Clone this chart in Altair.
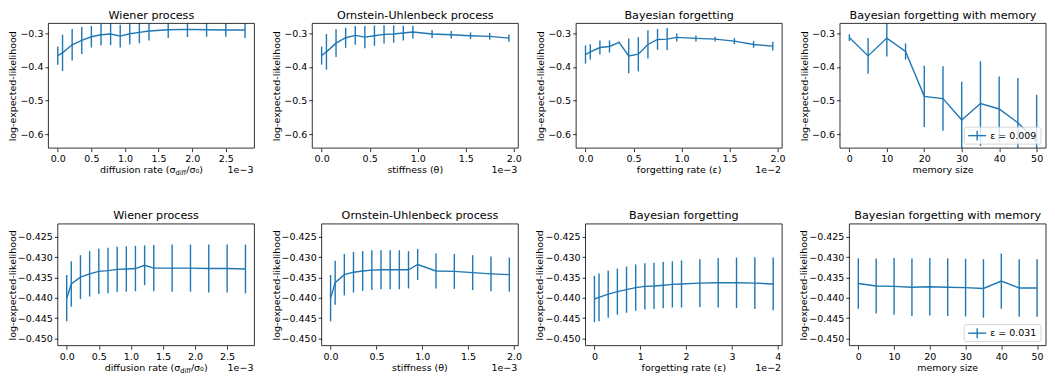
import altair as alt
import pandas as pd

BLUE = "#1f77b4"
FONT = "DejaVu Sans"
TICK_FS = 9.5
LAB_FS = 9.5
TITLE_FS = 11.2

# ---------------- data ----------------
titles = ["Wiener process", "Ornstein-Uhlenbeck process", "Bayesian forgetting",
          "Bayesian forgetting with memory"]
legend_label_top = "\u03b5 = 0.009"
legend_label_bottom = "\u03b5 = 0.031"

wiener_x = [0.0, 0.071, 0.214, 0.357, 0.5, 0.643, 0.786, 0.929, 1.071, 1.214,
            1.357, 1.643, 1.929, 2.214, 2.5, 2.786]
ou_x = [0.0, 0.05, 0.15, 0.25, 0.35, 0.45, 0.55, 0.65, 0.75, 0.85, 0.95,
        1.15, 1.35, 1.55, 1.75, 1.95]
bf_top_x = [0.0, 0.05, 0.15, 0.25, 0.35, 0.45, 0.55, 0.65, 0.75, 0.85, 0.95,
            1.15, 1.35, 1.55, 1.75, 1.95]
bf_bot_x = [0.0, 0.1, 0.3, 0.5, 0.7, 0.9, 1.1, 1.3, 1.5, 1.7, 1.9, 2.3, 2.7,
            3.1, 3.5, 3.9]
mem_x = [0, 5, 10, 15, 20, 25, 30, 35, 40, 45, 50]

wiener_top_mean = [-0.366, -0.358, -0.334, -0.321, -0.310, -0.304, -0.302, -0.308,
                   -0.301, -0.297, -0.293, -0.289, -0.288, -0.289, -0.290, -0.290]
wiener_top_err = [0.027, 0.054, 0.047, 0.040, 0.032, 0.032, 0.033, 0.034,
                  0.032, 0.032, 0.028, 0.025, 0.023, 0.021, 0.020, 0.024]
ou_top_mean = [-0.366, -0.355, -0.329, -0.313, -0.306, -0.311, -0.307, -0.303,
               -0.302, -0.299, -0.296, -0.302, -0.304, -0.307, -0.309, -0.314]
ou_top_err = [0.027, 0.053, 0.041, 0.030, 0.028, 0.033, 0.030, 0.027,
              0.026, 0.022, 0.019, 0.012, 0.011, 0.010, 0.010, 0.011]
bf_top_mean = [-0.363, -0.355, -0.342, -0.339, -0.327, -0.367, -0.362, -0.333,
               -0.318, -0.317, -0.312, -0.315, -0.317, -0.323, -0.333, -0.338]
bf_top_err = [0.027, 0.023, 0.021, 0.018, 0.002, 0.052, 0.051, 0.042,
              0.031, 0.033, 0.012, 0.009, 0.007, 0.009, 0.010, 0.013]
mem_top_mean = [-0.3125, -0.367, -0.314, -0.354, -0.4875, -0.494, -0.558, -0.509,
                -0.525, -0.566, -0.622]
mem_top_err = [0.010, 0.053, 0.055, 0.024, 0.091, 0.096, 0.114, 0.126,
               0.097, 0.133, 0.139]

wiener_bot_mean = [-0.4401, -0.4366, -0.4349, -0.4341, -0.4335, -0.4333, -0.4330, -0.4329,
                   -0.4328, -0.4320, -0.4327, -0.4327, -0.4327, -0.4328, -0.4328, -0.4329]
wiener_bot_err = [0.0057, 0.0056, 0.0054, 0.0056, 0.0056, 0.0056, 0.0056, 0.0056,
                  0.0056, 0.0049, 0.0057, 0.0058, 0.0058, 0.0059, 0.0059, 0.0060]
ou_bot_mean = [-0.4401, -0.4363, -0.4343, -0.4337, -0.4334, -0.4332, -0.4331, -0.4331,
               -0.4331, -0.4331, -0.4318, -0.4334, -0.4335, -0.4338, -0.4341, -0.4343]
ou_bot_err = [0.0057, 0.0054, 0.0051, 0.0050, 0.0049, 0.0049, 0.0048, 0.0048,
              0.0048, 0.0046, 0.0038, 0.0043, 0.0043, 0.0043, 0.0043, 0.0042]
bf_bot_mean = [-0.4403, -0.4399, -0.4391, -0.4385, -0.4380, -0.4375, -0.4372, -0.4371,
               -0.4369, -0.4367, -0.4366, -0.4364, -0.4363, -0.4363, -0.4364, -0.4366]
bf_bot_err = [0.0057, 0.0059, 0.0058, 0.0057, 0.0057, 0.0057, 0.0057, 0.0057,
              0.0057, 0.0057, 0.0058, 0.0059, 0.0061, 0.0062, 0.0064, 0.0065]
mem_bot_mean = [-0.4365, -0.4371, -0.4372, -0.4374, -0.4373, -0.4374, -0.4375, -0.4377,
                -0.4359, -0.4376, -0.4376]
mem_bot_err = [0.0062, 0.0068, 0.0070, 0.0071, 0.0071, 0.0071, 0.0071, 0.0072,
               0.0068, 0.0071, 0.0071]

top_yticks = [-0.6, -0.5, -0.4, -0.3]
bot_yticks = [-0.450, -0.445, -0.440, -0.435, -0.430, -0.425]
top_ydomain = [-0.6415, -0.2703]
bot_ydomain = [-0.4518, -0.4218]

wt = [0.0, 0.5, 1.0, 1.5, 2.0, 2.5]
ot = [0.0, 0.5, 1.0, 1.5, 2.0]
bt = [0, 1, 2, 3, 4]
mt = [0, 10, 20, 30, 40, 50]

# ---------------- layout ----------------
TOP_W, TOP_H = 206.5, 125
BOT_INSET = 9.4          # bottom-row plots sit further right (wider tick labels)
BOT_W, BOT_H = 206.5 - BOT_INSET, 122
PITCH = 264
XT_OFF = 25              # baseline of x-axis titles below the plot


def text_layer(txt, x, y, size=LAB_FS, align="center", baseline="alphabetic"):
    return alt.Chart(pd.DataFrame({"t": [txt]})).mark_text(
        font=FONT, fontSize=size, align=align, baseline=baseline, color="black"
    ).encode(x=alt.value(x), y=alt.value(y), text="t:N")


def xtitle_layers(kind, x0, W, H):
    yb = H + XT_OFF
    cx = x0 + W / 2
    if kind == "wiener":
        main = "diffusion rate (\u03c3"
        sub = "diff"
        tail = "/\u03c3\u2080)"
        em = LAB_FS / 2048.0
        w_main = 16357 * em
        w_sub = 3311 * (LAB_FS * 0.7) / 2048.0
        w_tail = 3619 * em
        total = w_main + w_sub + w_tail
        pivot = cx - total / 2 + w_main
        return [
            text_layer(main, pivot, yb, align="right"),
            text_layer(sub, pivot, yb + 2, size=LAB_FS * 0.7, align="left"),
            text_layer(tail, pivot + w_sub, yb, align="left"),
        ]
    label = {"ou": "stiffness (\u03b8)", "bf": "forgetting rate (\u03b5)",
             "mem": "memory size"}[kind]
    return [text_layer(label, cx, yb)]


def legend_layers(label, x0, W, H):
    bw, bh = 77, 17
    x1 = x0 + W - 5 - bw
    y2 = H - 4
    y1 = y2 - bh
    yc = (y1 + y2) / 2
    one = pd.DataFrame({"a": [0]})
    box = alt.Chart(one).mark_rect(
        fill="white", fillOpacity=0.8, stroke="#cccccc", strokeWidth=0.8, cornerRadius=2
    ).encode(x=alt.value(x1), x2=alt.value(x1 + bw), y=alt.value(y1), y2=alt.value(y2))
    hline = alt.Chart(one).mark_rule(color=BLUE, strokeWidth=1.4).encode(
        x=alt.value(x1 + 4), x2=alt.value(x1 + 22), y=alt.value(yc))
    vline = alt.Chart(one).mark_rule(color=BLUE, strokeWidth=1.4).encode(
        x=alt.value(x1 + 13), y=alt.value(yc - 5), y2=alt.value(yc + 5))
    txt = text_layer(label, x1 + 26, yc, align="left", baseline="middle")
    return [box, hline, vline, txt]


def panel(x, mean, err, title, kind, xdomain, xticks, xfmt, row, offset_label, legend=None):
    if row == 0:
        W, H, x0 = TOP_W, TOP_H, 0
    else:
        W, H, x0 = BOT_W, BOT_H, BOT_INSET
    ydomain = top_ydomain if row == 0 else bot_ydomain
    yticks = top_yticks if row == 0 else bot_yticks
    yfmt = ".1f" if row == 0 else ".3f"
    lo_lim, hi_lim = ydomain
    # error bars are cut at the plot frame, as in the original figure
    df = pd.DataFrame({
        "x": x, "m": mean,
        "lo": [max(m - e, lo_lim) for m, e in zip(mean, err)],
        "hi": [min(m + e, hi_lim) for m, e in zip(mean, err)],
    })
    xs = alt.Scale(domain=xdomain, nice=False, zero=False, range=[x0, x0 + W])
    ys = alt.Scale(domain=ydomain, nice=False, zero=False)
    xax = alt.Axis(values=xticks, format=xfmt, title=None)
    yax = alt.Axis(values=yticks, format=yfmt, title="log-expected-likelihood",
                   titlePadding=2 if row == 0 else 0, offset=-x0)
    bars = alt.Chart(df).mark_rule(color=BLUE, strokeWidth=1.4).encode(
        x=alt.X("x:Q", scale=xs, axis=xax),
        y=alt.Y("lo:Q", scale=ys, axis=yax),
        y2="hi:Q",
    )
    line = alt.Chart(df).mark_line(color=BLUE, strokeWidth=1.4).encode(
        x=alt.X("x:Q", scale=xs, axis=xax),
        y=alt.Y("m:Q", scale=ys, axis=yax),
    )
    one = pd.DataFrame({"a": [0]})
    frame = alt.Chart(one).mark_rect(
        fillOpacity=0, stroke="black", strokeWidth=0.8
    ).encode(x=alt.value(x0), x2=alt.value(x0 + W), y=alt.value(0), y2=alt.value(H))
    layers = [bars, line, frame] + xtitle_layers(kind, x0, W, H)
    if offset_label:
        layers.append(text_layer(offset_label, x0 + W - 1, H + XT_OFF, align="right"))
    if legend:
        layers += legend_layers(legend, x0, W, H)
    return alt.layer(*layers).properties(
        width=W + x0, height=H,
        title=alt.TitleParams(title, fontSize=TITLE_FS, font=FONT, fontWeight="normal",
                              color="black", offset=2, dx=x0 / 2),
    )


top = [
    panel(wiener_x, wiener_top_mean, wiener_top_err, titles[0], "wiener",
          [-0.1393, 2.9253], wt, ".1f", 0, "1e\u22123"),
    panel(ou_x, ou_top_mean, ou_top_err, titles[1], "ou",
          [-0.0975, 2.0475], ot, ".1f", 0, "1e\u22123"),
    panel(bf_top_x, bf_top_mean, bf_top_err, titles[2], "bf",
          [-0.0975, 2.0475], ot, ".1f", 0, "1e\u22122"),
    panel(mem_x, mem_top_mean, mem_top_err, titles[3], "mem",
          [-2.5, 52.5], mt, "d", 0, "", legend_label_top),
]
bottom = [
    panel(wiener_x, wiener_bot_mean, wiener_bot_err, titles[0], "wiener",
          [-0.1393, 2.9253], wt, ".1f", 1, "1e\u22123"),
    panel(ou_x, ou_bot_mean, ou_bot_err, titles[1], "ou",
          [-0.0975, 2.0475], ot, ".1f", 1, "1e\u22123"),
    panel(bf_bot_x, bf_bot_mean, bf_bot_err, titles[2], "bf",
          [-0.195, 4.095], bt, "d", 1, "1e\u22122"),
    panel(mem_x, mem_bot_mean, mem_bot_err, titles[3], "mem",
          [-2.5, 52.5], mt, "d", 1, "", legend_label_bottom),
]

top_row = alt.hconcat(*top, spacing=PITCH - TOP_W, bounds="flush")
bot_row = alt.hconcat(*bottom, spacing=PITCH - BOT_W - BOT_INSET, bounds="flush")

chart = alt.vconcat(top_row, bot_row, spacing=31).properties(
    padding={"left": -1.5, "top": 0, "right": 0, "bottom": 0}
).configure_view(
    stroke="transparent"
).configure_axis(
    grid=False, domain=False, tickColor="black", tickSize=3.5, tickWidth=0.8,
    labelFont=FONT, labelFontSize=TICK_FS, labelColor="black", labelPadding=2,
    titleFont=FONT, titleFontSize=LAB_FS, titleFontWeight="normal", titleColor="black",
).configure_axisX(labelFlush=False).configure_axisY(labelFlush=False)

chart.save("out.html", embed_options={"renderer": "svg", "actions": False})
